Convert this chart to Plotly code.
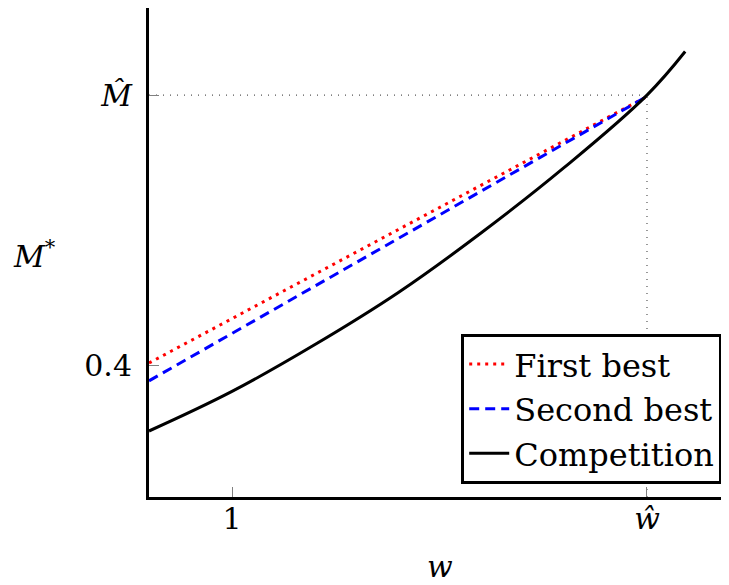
import plotly.graph_objects as go

# data (w on x, M* on y)
w_hat = 6.0
M_hat = 1.218

first_w = [0.0, 6.0]
first_m = [0.406, 1.214]

second_w = [0.0, 6.0]
second_m = [0.352, 1.214]

comp_w = [0.0, 1.0, 2.0, 3.0, 4.0, 5.0, 6.0, 6.46]
comp_m = [0.200, 0.320, 0.462, 0.619, 0.800, 0.998, 1.218, 1.350]

x_ticks = [1, w_hat]
x_labels = ["1", "<i>ŵ</i>"]
y_ticks = [0.4, M_hat]
y_labels = ["0.4", "<i>M̂</i>"]

font = "DejaVu Serif"
fs = 30

fig = go.Figure()
fig.add_trace(go.Scatter(x=first_w, y=first_m, mode="lines", name="First best",
                         line=dict(color="red", width=3, dash="3px,5px")))
fig.add_trace(go.Scatter(x=second_w, y=second_m, mode="lines", name="Second best",
                         line=dict(color="blue", width=3, dash="10px,6px")))
fig.add_trace(go.Scatter(x=comp_w, y=comp_m, mode="lines", name="Competition",
                         line=dict(color="black", width=3, shape="spline",
                                   smoothing=1.1)))

# dotted guides to the hat values
fig.add_shape(type="line", x0=0, x1=w_hat, y0=M_hat, y1=M_hat,
              line=dict(color="#555", width=1.2, dash="1px,6px"), layer="below")
fig.add_shape(type="line", x0=w_hat, x1=w_hat, y0=0, y1=M_hat,
              line=dict(color="#555", width=1.2, dash="1px,6px"), layer="below")

# page body has an 8px margin, so the figure is 8px smaller than the window
fig.update_layout(
    width=721, height=577,
    margin=dict(l=141, r=1, t=0, b=88),
    plot_bgcolor="white", paper_bgcolor="white",
    font=dict(family=font, size=fs, color="black"),
    showlegend=True,
    legend=dict(x=0.99, y=0.027, xanchor="right", yanchor="bottom",
                bordercolor="black", borderwidth=3, bgcolor="white",
                font=dict(size=32), tracegroupgap=0, itemwidth=40),
)
fig.update_xaxes(range=[0, 6.976], showgrid=False, zeroline=False,
                 showline=True, linecolor="black", linewidth=3,
                 tickvals=x_ticks, ticktext=x_labels, ticks="inside",
                 ticklen=10, tickcolor="gray", tickwidth=1,
                 ticklabelstandoff=-7, tickfont=dict(size=fs))
fig.update_yaxes(range=[0, 1.482], showgrid=False, zeroline=False,
                 showline=True, linecolor="black", linewidth=3,
                 tickvals=y_ticks, ticktext=y_labels, ticks="inside",
                 ticklen=10, tickcolor="gray", tickwidth=1,
                 ticklabelstandoff=8, tickfont=dict(size=fs))

fig.add_annotation(text="<i>w</i>", xref="paper", yref="paper",
                   x=0.503, y=-0.142, showarrow=False, xanchor="center",
                   yanchor="middle", font=dict(size=fs))
fig.add_annotation(text="<i>M</i><sup>*</sup>", xref="paper", yref="paper",
                   x=-0.197, y=0.495, showarrow=False, xanchor="center",
                   yanchor="middle", font=dict(size=fs))

fig.write_html("out.html")
